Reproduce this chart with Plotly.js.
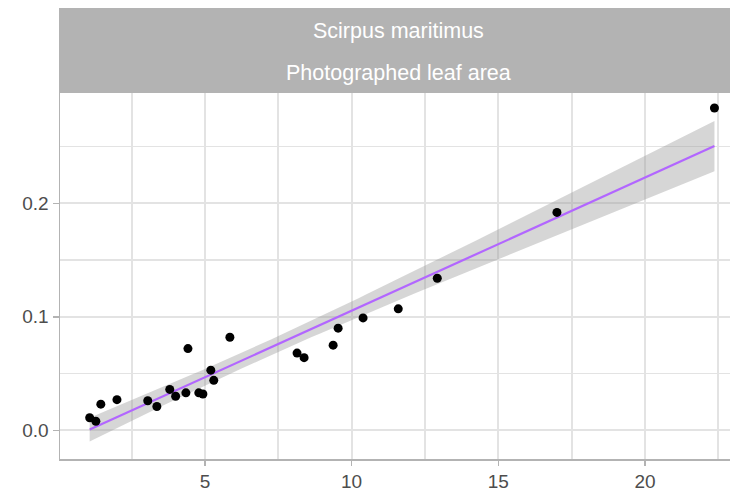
<!DOCTYPE html>
<html>
<head>
<meta charset="utf-8">
<script src="https://cdn.plot.ly/plotly-3.0.1.min.js"></script>
<style>html,body{margin:0;padding:0;background:#fff;}#chart{width:730px;height:500px;}</style>
</head>
<body>
<div id="chart"></div>
<script>
// Data
const stripLine1 = "Scirpus maritimus";
const stripLine2 = "Photographed leaf area";
const xValues = [1.07, 1.28, 1.45, 2.0, 3.05, 3.36, 3.8, 4.0, 4.35, 4.42, 4.79, 4.93, 5.2, 5.3, 5.85, 8.14, 8.38, 9.37, 9.54, 10.39, 11.59, 12.92, 17.0, 22.37];
const yValues = [0.011, 0.008, 0.023, 0.027, 0.026, 0.021, 0.036, 0.030, 0.033, 0.072, 0.033, 0.032, 0.053, 0.044, 0.082, 0.068, 0.064, 0.075, 0.090, 0.099, 0.107, 0.134, 0.192, 0.284];
const xTickVals = [5, 10, 15, 20];
const xMinorVals = [2.5, 7.5, 12.5, 17.5, 22.5];
const yTickVals = [0.0, 0.1, 0.2];
const yMinorVals = [0.05, 0.15, 0.25];

// Linear regression (lm) with 95% confidence band, as geom_smooth(method = "lm")
const n = xValues.length;
const mx = xValues.reduce((a, b) => a + b, 0) / n;
const my = yValues.reduce((a, b) => a + b, 0) / n;
let sxx = 0, sxy = 0;
for (let i = 0; i < n; i++) { sxx += (xValues[i] - mx) ** 2; sxy += (xValues[i] - mx) * (yValues[i] - my); }
const slope = sxy / sxx;
const intercept = my - slope * mx;
let sse = 0;
for (let i = 0; i < n; i++) { sse += (yValues[i] - (intercept + slope * xValues[i])) ** 2; }
const s = Math.sqrt(sse / (n - 2));
const tcrit = 2.074; // t(0.975, df = 22)
const xmin = Math.min(...xValues), xmax = Math.max(...xValues);
const fx = [], fy = [], lo = [], hi = [];
for (let k = 0; k < 80; k++) {
  const x = xmin + (xmax - xmin) * k / 79;
  const y = intercept + slope * x;
  const se = s * Math.sqrt(1 / n + (x - mx) ** 2 / sxx);
  fx.push(x); fy.push(y); lo.push(y - tcrit * se); hi.push(y + tcrit * se);
}

const band = {
  x: fx.concat(fx.slice().reverse()),
  y: hi.concat(lo.slice().reverse()),
  type: 'scatter', mode: 'lines', fill: 'toself',
  fillcolor: 'rgba(153,153,153,0.4)', line: {width: 0}, hoverinfo: 'skip', showlegend: false
};
const fitLine = {
  x: fx, y: fy, type: 'scatter', mode: 'lines',
  line: {color: '#b266ff', width: 2.2}, showlegend: false
};
const points = {
  x: xValues, y: yValues, type: 'scatter', mode: 'markers',
  marker: {color: '#000000', size: 9}, showlegend: false
};

const plotH = 500 - 93 - 41;
const plotW = 730 - 60;
const layout = {
  width: 730, height: 500,
  margin: {l: 60, r: 0, t: 93, b: 41},
  paper_bgcolor: '#ffffff', plot_bgcolor: '#ffffff',
  font: {family: 'Liberation Sans, Arial, sans-serif', size: 18, color: '#4d4d4d'},
  xaxis: {
    range: [0.058, 22.9], tickvals: xTickVals, ticktext: xTickVals.map(String),
    showgrid: true, gridcolor: '#e3e3e3', gridwidth: 1.8,
    minor: {tickmode: 'array', tickvals: xMinorVals, showgrid: true, gridcolor: '#e3e3e3', gridwidth: 1.8, ticks: ''},
    zeroline: false, showline: true, linecolor: '#b3b3b3', linewidth: 1.5, mirror: false,
    ticks: 'outside', ticklen: 5, tickcolor: '#b3b3b3', tickwidth: 1.5,
    tickfont: {size: 19, color: '#4d4d4d'}
  },
  yaxis: {
    range: [-0.0253, 0.2972], tickvals: yTickVals, ticktext: yTickVals.map(v => v.toFixed(1)),
    showgrid: true, gridcolor: '#e3e3e3', gridwidth: 1.8,
    minor: {tickmode: 'array', tickvals: yMinorVals, showgrid: true, gridcolor: '#e3e3e3', gridwidth: 1.8, ticks: ''},
    zeroline: false, showline: true, linecolor: '#b3b3b3', linewidth: 1.5, mirror: false,
    ticks: 'outside', ticklen: 6, tickcolor: '#b3b3b3', tickwidth: 1.5,
    tickfont: {size: 19, color: '#4d4d4d'}
  },
  shapes: [{
    type: 'rect', xref: 'paper', yref: 'paper', x0: -1 / plotW, x1: 1.01,
    y0: 1, y1: 1 + 85 / plotH, fillcolor: '#b3b3b3', line: {width: 0}, layer: 'above'
  }],
  annotations: [
    {text: stripLine1, xref: 'paper', yref: 'paper', x: (399 - 60) / plotW, y: (459 - 31) / plotH,
     showarrow: false, font: {size: 21.5, color: '#ffffff'}, xanchor: 'center', yanchor: 'middle'},
    {text: stripLine2, xref: 'paper', yref: 'paper', x: (399 - 60) / plotW, y: (459 - 73) / plotH,
     showarrow: false, font: {size: 21.5, color: '#ffffff'}, xanchor: 'center', yanchor: 'middle'}
  ]
};

Plotly.newPlot('chart', [band, fitLine, points], layout, {displayModeBar: false, staticPlot: true});
</script>
</body>
</html>
